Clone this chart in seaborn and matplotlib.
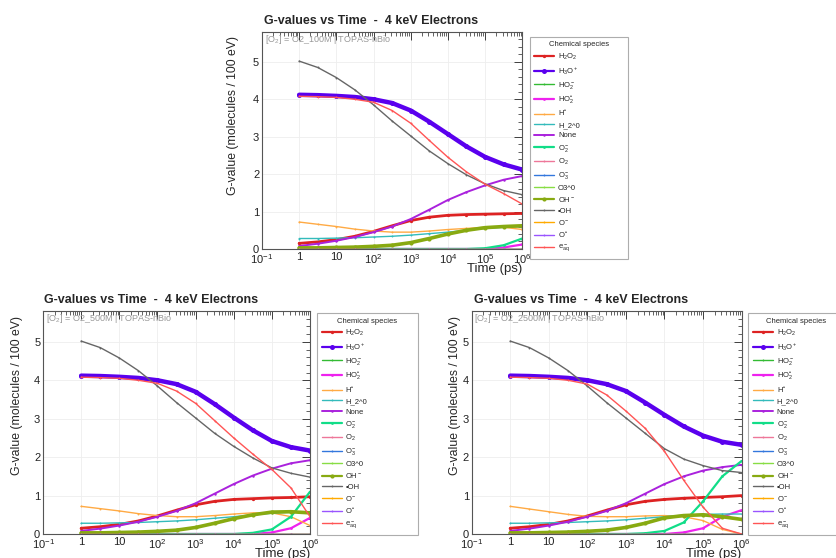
import numpy as np
import pandas as pd
import matplotlib
matplotlib.use("Agg")
import matplotlib.pyplot as plt
import seaborn as sns
from matplotlib.ticker import LogLocator, FixedLocator, MultipleLocator, NullFormatter

sns.set_theme(style="white")
plt.rcParams['font.family'] = ['Liberation Sans', 'DejaVu Sans']
plt.rcParams['mathtext.fontset'] = 'custom'
plt.rcParams['mathtext.rm'] = 'Liberation Sans'
plt.rcParams['mathtext.it'] = 'Liberation Sans'

# ---------------- data ----------------
time_ps = [1, 3.16, 10, 31.6, 100, 316, 1e3, 3.16e3, 1e4, 3.16e4, 1e5, 3.16e5, 1e6]

species = ["H2O2", "H3O+", "HO2-", "HO2*", "H*", "H_2^0", "None", "O2-", "O2",
           "O3-", "O3^0", "OH-", "*OH", "O-", "O*", "e_aq"]
labels = ["H$_2$O$_2$", "H$_3$O$^+$", "HO$_2^-$", "HO$_2^{\u2022}$", "H$^{\u2022}$", "H_2^0",
          "None", "O$_2^-$", "O$_2$", "O$_3^-$", "O3^0", "OH$^-$", "\u2022OH", "O$^-$",
          "O$^{\u2022}$", "e$^-_{aq}$"]
colors = ["#dd2222", "#5a00ee", "#33bb33", "#ee22ee", "#ffaa44", "#33bbbb", "#aa22dd", "#11dd88",
          "#ee7799", "#3377dd", "#88dd44", "#88aa11", "#666666", "#ffaa00", "#9955ff", "#ff5555"]

zeros = [0.0] * 13

# panel 1 : O2_100M
p1_H2O2 = [0.15, 0.19, 0.25, 0.34, 0.47, 0.62, 0.76, 0.85, 0.90, 0.92, 0.93, 0.94, 0.95]
p1_H3O = [4.12, 4.11, 4.09, 4.06, 4.00, 3.90, 3.70, 3.40, 3.07, 2.74, 2.46, 2.26, 2.12]
p1_HO2r = [0, 0, 0, 0, 0, 0, 0, 0, 0, 0, 0.0, 0.04, 0.12]
p1_H = [0.72, 0.66, 0.60, 0.53, 0.48, 0.45, 0.45, 0.48, 0.52, 0.55, 0.58, 0.58, 0.52]
p1_H2 = [0.28, 0.28, 0.29, 0.30, 0.32, 0.34, 0.37, 0.41, 0.45, 0.50, 0.55, 0.58, 0.60]
p1_None = [0.08, 0.14, 0.22, 0.32, 0.45, 0.60, 0.80, 1.05, 1.31, 1.52, 1.70, 1.85, 1.95]
p1_O2m = [0, 0, 0, 0, 0, 0, 0, 0, 0, 0.0, 0.02, 0.10, 0.28]
p1_OHm = [0.03, 0.03, 0.04, 0.05, 0.07, 0.10, 0.17, 0.28, 0.40, 0.50, 0.57, 0.60, 0.62]
p1_OH = [5.02, 4.85, 4.58, 4.25, 3.85, 3.42, 3.02, 2.62, 2.28, 1.98, 1.74, 1.56, 1.45]
p1_eaq = [4.08, 4.07, 4.05, 4.00, 3.92, 3.70, 3.36, 2.90, 2.45, 2.06, 1.73, 1.48, 1.20]

# panel 2 : O2_500M
p2_H2O2 = [0.15, 0.19, 0.25, 0.34, 0.47, 0.62, 0.76, 0.85, 0.90, 0.92, 0.94, 0.95, 0.97]
p2_H3O = [4.12, 4.11, 4.09, 4.06, 4.00, 3.90, 3.70, 3.38, 3.03, 2.70, 2.42, 2.26, 2.17]
p2_HO2r = [0, 0, 0, 0, 0, 0, 0, 0, 0, 0.0, 0.04, 0.15, 0.42]
p2_H = [0.72, 0.66, 0.60, 0.53, 0.48, 0.45, 0.45, 0.48, 0.52, 0.55, 0.55, 0.45, 0.22]
p2_H2 = [0.28, 0.28, 0.29, 0.30, 0.32, 0.34, 0.37, 0.41, 0.45, 0.50, 0.54, 0.57, 0.58]
p2_None = [0.08, 0.14, 0.22, 0.32, 0.45, 0.60, 0.80, 1.05, 1.30, 1.52, 1.70, 1.84, 1.92]
p2_O2m = [0, 0, 0, 0, 0, 0, 0, 0, 0.0, 0.03, 0.12, 0.45, 1.10]
p2_OHm = [0.03, 0.03, 0.04, 0.05, 0.07, 0.10, 0.17, 0.28, 0.40, 0.50, 0.57, 0.58, 0.55]
p2_OH = [5.02, 4.85, 4.58, 4.25, 3.85, 3.42, 3.02, 2.62, 2.28, 1.98, 1.72, 1.58, 1.48]
p2_eaq = [4.08, 4.07, 4.05, 4.00, 3.92, 3.72, 3.40, 2.95, 2.50, 2.08, 1.68, 1.20, 0.45]

# panel 3 : O2_2500M
p3_H2O2 = [0.15, 0.19, 0.25, 0.34, 0.47, 0.62, 0.76, 0.85, 0.90, 0.93, 0.95, 0.97, 1.00]
p3_H3O = [4.12, 4.11, 4.09, 4.06, 4.00, 3.90, 3.72, 3.42, 3.10, 2.80, 2.56, 2.40, 2.32]
p3_HO2r = [0, 0, 0, 0, 0, 0, 0, 0, 0.0, 0.04, 0.15, 0.45, 0.62]
p3_H = [0.72, 0.65, 0.58, 0.51, 0.46, 0.45, 0.45, 0.47, 0.48, 0.45, 0.35, 0.12, 0.0]
p3_H2 = [0.28, 0.28, 0.29, 0.30, 0.32, 0.34, 0.37, 0.41, 0.45, 0.49, 0.51, 0.52, 0.52]
p3_None = [0.08, 0.14, 0.22, 0.32, 0.45, 0.60, 0.80, 1.05, 1.30, 1.50, 1.65, 1.74, 1.80]
p3_O2m = [0, 0, 0, 0, 0, 0, 0.0, 0.02, 0.08, 0.30, 0.85, 1.50, 1.90]
p3_OHm = [0.03, 0.03, 0.04, 0.05, 0.07, 0.10, 0.17, 0.28, 0.42, 0.48, 0.50, 0.45, 0.38]
p3_OH = [5.02, 4.85, 4.58, 4.25, 3.85, 3.42, 3.02, 2.62, 2.22, 1.95, 1.78, 1.65, 1.60]
p3_eaq = [4.08, 4.07, 4.05, 4.00, 3.90, 3.62, 3.20, 2.75, 2.15, 1.40, 0.70, 0.15, 0.0]

panel_tags = ["O2_100M", "O2_500M", "O2_2500M"]
x_ticklabels = ["$10^{-1}$", "1", "10", "$10^{2}$", "$10^{3}$", "$10^{4}$", "$10^{5}$", "$10^{6}$"]


def panel_frame(H2O2, H3O, HO2r, H, H2, Non, O2m, OHm, OH, eaq):
    vals = {"H2O2": H2O2, "H3O+": H3O, "HO2-": zeros, "HO2*": HO2r, "H*": H, "H_2^0": H2,
            "None": Non, "O2-": O2m, "O2": zeros, "O3-": zeros, "O3^0": zeros, "OH-": OHm,
            "*OH": OH, "O-": zeros, "O*": zeros, "e_aq": eaq}
    rows = []
    for sp in species:
        for t, v in zip(time_ps, vals[sp]):
            rows.append((sp, t, v))
    return pd.DataFrame(rows, columns=["species", "time", "G"])


frames = [
    panel_frame(p1_H2O2, p1_H3O, p1_HO2r, p1_H, p1_H2, p1_None, p1_O2m, p1_OHm, p1_OH, p1_eaq),
    panel_frame(p2_H2O2, p2_H3O, p2_HO2r, p2_H, p2_H2, p2_None, p2_O2m, p2_OHm, p2_OH, p2_eaq),
    panel_frame(p3_H2O2, p3_H3O, p3_HO2r, p3_H, p3_H2, p3_None, p3_O2m, p3_OHm, p3_OH, p3_eaq),
]

lw = {"H2O2": 2.0, "H3O+": 3.2, "OH-": 2.6, "O2-": 1.6, "HO2*": 1.6, "None": 1.4}

fig = plt.figure(figsize=(8.37, 5.58), dpi=100)
axes_rects = [
    [0.313, 0.5538, 0.311, 0.389],
    [0.0514, 0.043, 0.319, 0.3995],
    [0.5635, 0.043, 0.3225, 0.3995],
]
legend_rects = [
    (0.633, 0.559, 0.117, 0.375),
    (0.379, 0.054, 0.120, 0.385),
    (0.894, 0.054, 0.115, 0.385),
]
title_pos = [(0.316, 0.962), (0.052, 0.462), (0.566, 0.462)]
ylabel_x = [0.285, 0.027, 0.551]

for i, (rect, df) in enumerate(zip(axes_rects, frames)):
    ax = fig.add_axes(rect)
    for sp, lab, col in zip(species, labels, colors):
        sub = df[df.species == sp]
        w = lw.get(sp, 1.0)
        sns.lineplot(data=sub, x="time", y="G", ax=ax, color=col, lw=w, label=lab,
                     marker="o", markersize=w + 0.4, markeredgewidth=0, legend=False)
    ax.set_xscale("log")
    ax.set_xlim(0.1, 1e6)
    ax.set_ylim(0, 5.8)
    ax.xaxis.set_major_locator(FixedLocator([0.1, 1, 10, 1e2, 1e3, 1e4, 1e5, 1e6]))
    ax.set_xticklabels(x_ticklabels)
    ax.xaxis.set_minor_locator(LogLocator(base=10, subs=np.arange(2, 10), numticks=20))
    ax.xaxis.set_minor_formatter(NullFormatter())
    ax.yaxis.set_major_locator(MultipleLocator(1))
    ax.yaxis.set_minor_locator(MultipleLocator(0.2))
    ax.tick_params(which="both", direction="in", top=True, right=True, labelsize=8,
                   colors="#222222", pad=2)
    ax.tick_params(which="major", length=6, width=0.6)
    ax.tick_params(which="minor", length=3, width=0.5)
    ax.grid(True, which="major", color="#eeeeee", lw=0.6)
    for s in ax.spines.values():
        s.set_color("#555555")
        s.set_linewidth(0.8)
    ax.set_xlabel("Time (ps)", loc="right", fontsize=9.5, labelpad=-2)
    ax.set_ylabel("G-value (molecules / 100 eV)", loc="top", fontsize=8.8)
    ax.yaxis.set_label_coords((ylabel_x[i] - rect[0]) / rect[2], 0.98, transform=ax.transAxes)
    ax.text(0.01, 0.995, "[O$_2$] = " + panel_tags[i] + " | TOPAS-nBio", transform=ax.transAxes,
            fontsize=6.5, color="#999999", va="top", ha="left")
    fig.text(title_pos[i][0], title_pos[i][1], "G-values vs Time  -  4 keV Electrons",
             fontsize=9, fontweight="bold", ha="left", va="center")
    handles, labs = ax.get_legend_handles_labels()
    leg = ax.legend(handles, labs, title="Chemical species", loc="upper left",
                    bbox_to_anchor=legend_rects[i], bbox_transform=fig.transFigure,
                    mode="expand", fontsize=5.5, title_fontsize=5.5, frameon=True,
                    fancybox=False, edgecolor="#999999", labelspacing=0.42,
                    handlelength=2.6, handletextpad=0.5, borderaxespad=0, borderpad=0.6)
    leg.get_frame().set_linewidth(0.8)
    for h in leg.get_lines():
        h.set_linewidth(min(h.get_linewidth(), 1.6))

fig.savefig("out.png", dpi=100)
